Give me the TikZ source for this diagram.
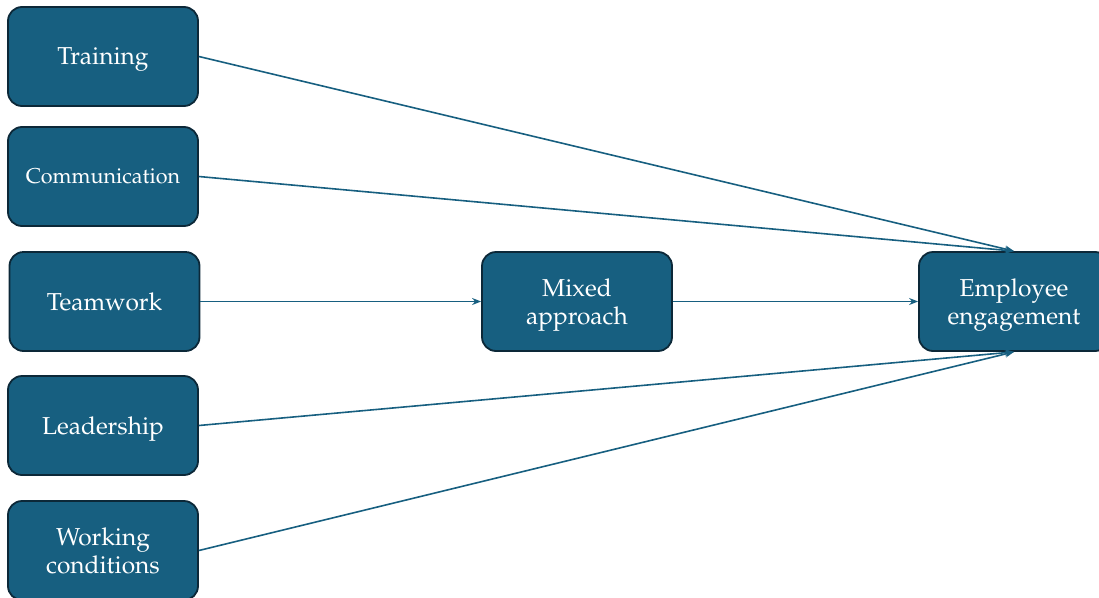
\documentclass[tikz,border=0pt]{standalone}
\usepackage[T1]{fontenc}
\usepackage{mathpazo}
\usetikzlibrary{arrows.meta}
\definecolor{boxfill}{HTML}{175F80}
\definecolor{boxedge}{HTML}{0C2838}
\definecolor{linkcol}{HTML}{175F80}
\tikzset{
  factor/.style={draw=boxedge, line width=1.8pt, fill=boxfill, rounded corners=14pt,
    minimum width=190pt, minimum height=99pt, text=white, align=center,
    font=\fontsize{24.5}{27.5}\selectfont, inner sep=0pt, text depth=0pt},
  link/.style={draw=linkcol, line width=1.6pt, -{Stealth[length=9pt,width=7pt]}}
}
\begin{document}
\begin{tikzpicture}[x=1pt,y=-1pt]
  \useasboundingbox (0,0) rectangle (1099,597);
  \node[factor] (train) at (103,56.5) {Training};
  \node[factor, font=\fontsize{21.5}{26}\selectfont] (comm) at (103,176.5) {Communication};
  \node[factor] (team) at (104.5,301.5) {Teamwork};
  \node[factor] (lead) at (103,425.5) {Leadership};
  \node[factor] (work) at (103,550.5) {Working\\conditions};
  \node[factor] (mixed) at (577,301.5) {Mixed\\approach};
  \node[factor] (engage) at (1014,301.5) {Employee\\engagement};

  \draw[link] (train.east) -- (engage.north);
  \draw[link] (comm.east) -- (engage.north);
  \draw[link] (team.east) -- (mixed.west);
  \draw[link] (mixed.east) -- (engage.west);
  \draw[link] (lead.east) -- (engage.south);
  \draw[link] (work.east) -- (engage.south);
\end{tikzpicture}
\end{document}
